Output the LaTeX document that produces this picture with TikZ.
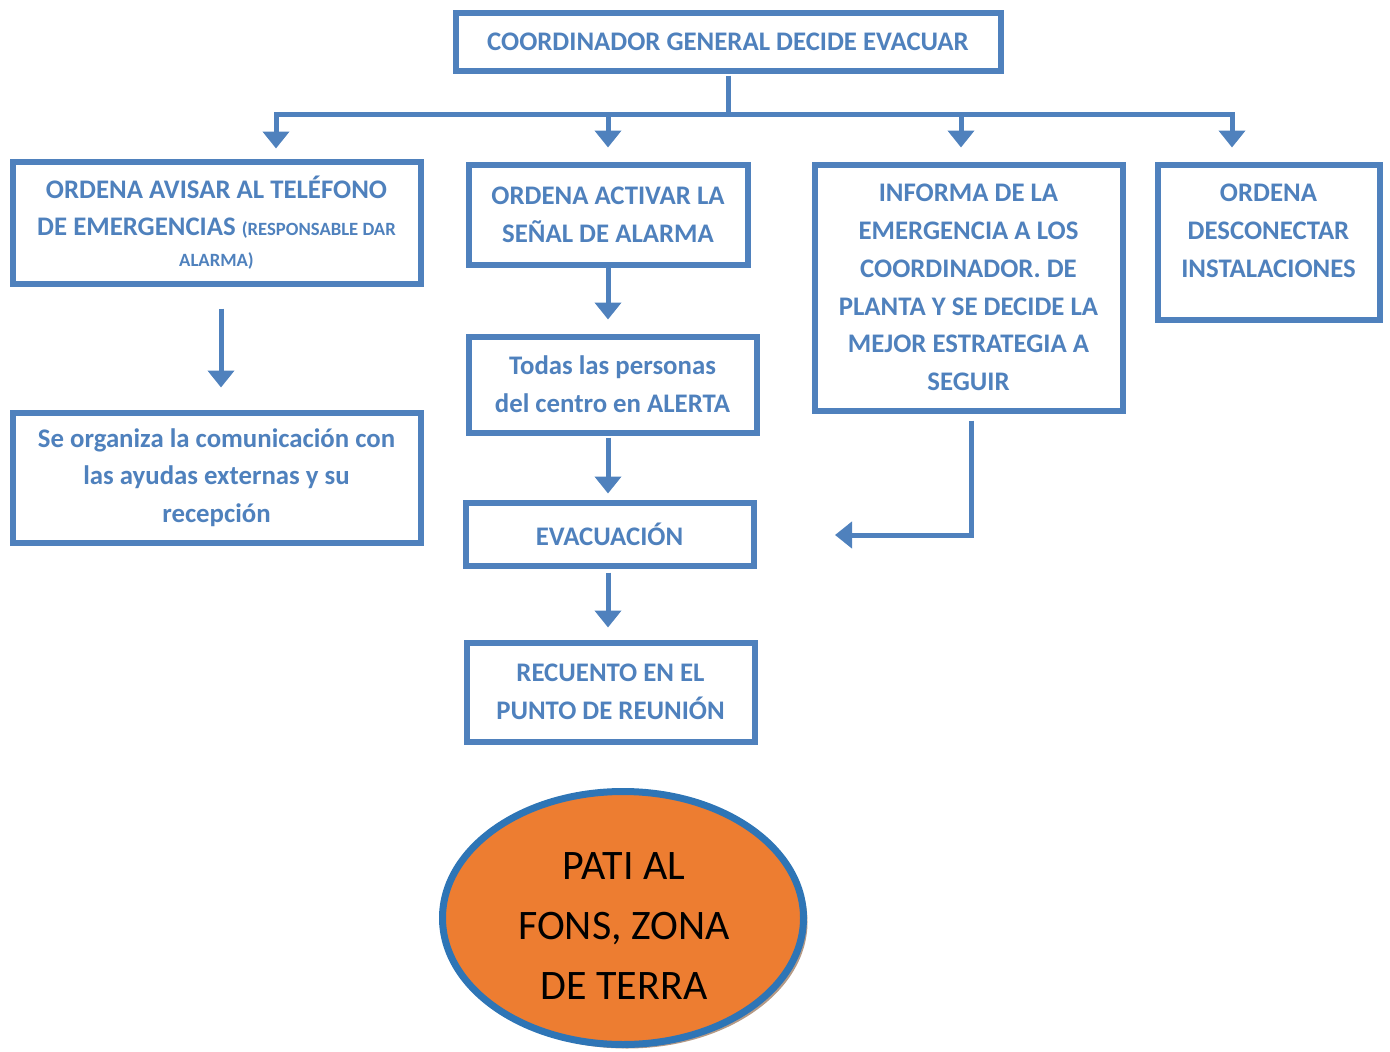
\documentclass[tikz,border=0pt]{standalone}
\usepackage{fontspec}
\setmainfont{Carlito}
\usetikzlibrary{arrows.meta,shapes.geometric,calc}
\definecolor{ublue}{HTML}{4F81BD}
\definecolor{eblue}{HTML}{2E75B6}
\definecolor{eorange}{HTML}{ED7D31}
\definecolor{eshadow}{HTML}{B59A86}
\newcommand{\smalltxt}{\fontsize{18.7}{24}\selectfont}
\tikzset{
  box/.style={draw=ublue, line width=6pt, fill=white, rectangle, inner sep=0pt,
    align=center, text=ublue, font=\bfseries\fontsize{26.8}{37.7}\selectfont},
  boxtext/.style={align=center, text=ublue, inner sep=0pt, font=\bfseries\fontsize{26.8}{37.7}\selectfont},
  arr/.style={draw=ublue, line width=5pt, -{Triangle[length=17pt,width=26pt]}},
  bar/.style={draw=ublue, line width=5pt},
}
\begin{document}
\begin{tikzpicture}[x=1pt,y=-1pt]
\useasboundingbox (0,0) rectangle (1390,1052);
% boxes
\node[box, minimum width=545pt, minimum height=58pt] (top) at (728,41.5) {COORDINADOR GENERAL DECIDE EVACUAR};
\node[box, minimum width=408pt, minimum height=122pt] (A) at (216.5,222.5) {ORDENA AVISAR AL TELÉFONO\\DE EMERGENCIAS {\smalltxt (RESPONSABLE DAR}\\[-7pt]{\smalltxt ALARMA)}};
\node[box, minimum width=279pt, minimum height=100pt] (B) at (608,214.5) {ORDENA ACTIVAR LA\\SEÑAL DE ALARMA};
\node[box, minimum width=308pt, minimum height=246pt] (C) at (968.5,287.5) {INFORMA DE LA\\EMERGENCIA A LOS\\COORDINADOR. DE\\PLANTA Y SE DECIDE LA\\MEJOR ESTRATEGIA A\\SEGUIR};
\node[box, minimum width=222pt, minimum height=155pt] (D) at (1268.5,242) {};
\node[boxtext] (Dt) at (1268.5,231) {ORDENA\\DESCONECTAR\\INSTALACIONES};
\node[box, minimum width=408pt, minimum height=130pt] (E) at (216.5,477.5) {Se organiza la comunicación con\\las ayudas externas y su\\recepción};
\node[box, minimum width=288pt, minimum height=96pt] (F) at (612.5,384.5) {Todas las personas\\del centro en ALERTA};
\node[box, minimum width=288pt, minimum height=63pt] (G) at (609.5,534) {EVACUACIÓN};
\node[box, minimum width=288pt, minimum height=99pt] (H) at (610.5,692) {RECUENTO EN EL\\PUNTO DE REUNIÓN};
% ellipse
\node[ellipse, fill=eshadow, minimum width=361pt, minimum height=253pt, inner sep=0pt] (Ps) at (627,922) {};
\node[ellipse, draw=eblue, line width=7pt, fill=eorange, minimum width=361pt, minimum height=253pt, inner sep=0pt] (P) at (623,918) {};
\node[align=center, inner sep=0pt, font=\fontsize{42}{60}\selectfont] (Pt) at (624,926) {PATI AL\\FONS, ZONA\\DE TERRA};
% bar
\coordinate (jc) at (728,114);
\coordinate (j1) at (276,114);
\coordinate (j2) at (608,114);
\coordinate (j3) at (961,114);
\coordinate (j4) at (1232,114);
\draw[bar, shorten <=2pt] (top.south) -- (jc);
\draw[bar, line cap=rect] (j1) -- (j4);
\draw[arr, shorten >=10pt] (j1) -- (j1 |- A.north);
\draw[arr, shorten >=14pt] (j2) -- (j2 |- B.north);
\draw[arr, shorten >=14pt] (j3) -- (j3 |- C.north);
\draw[arr, shorten >=14pt] (j4) -- (j4 |- D.north);
% vertical flows
\draw[arr, shorten <=22pt, shorten >=22pt] ([xshift=4.5pt]A.south) -- ([xshift=4.5pt]A.south |- E.north);
\draw[arr, shorten >=14pt] (B.south) -- (B.south |- F.north);
\draw[arr, shorten <=2pt, shorten >=6pt] ([xshift=-4.5pt]F.south) -- ([xshift=-4.5pt]F.south |- G.north);
\draw[arr, shorten <=4pt, shorten >=12pt] ([xshift=-1.5pt]G.south) -- ([xshift=-1.5pt]G.south |- H.north);
\coordinate (Cend) at (835,535);
\draw[arr, shorten <=7pt] ([xshift=2.5pt]C.south) |- (Cend);
\end{tikzpicture}
\end{document}
